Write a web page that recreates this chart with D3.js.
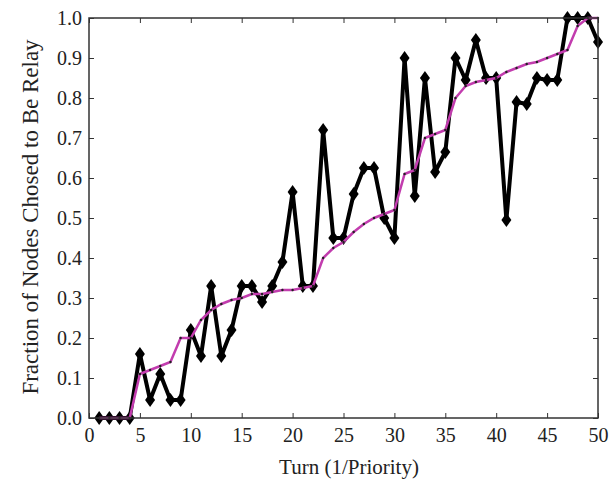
<!DOCTYPE html>
<html><head><meta charset="utf-8">
<script src="https://cdn.jsdelivr.net/npm/d3@7"></script>
<style>body{margin:0;background:#fff}svg{display:block}text{font-family:"Liberation Serif","Times New Roman",serif;fill:#222}</style>
</head><body>
<script>
const turns = d3.range(1, 51);
const fraction = [0,0,0,0,0.16,0.045,0.11,0.045,0.045,0.22,0.155,0.33,0.155,0.22,0.33,0.33,0.29,0.33,0.39,0.565,0.33,0.33,0.72,0.45,0.45,0.56,0.625,0.625,0.50,0.45,0.90,0.555,0.85,0.615,0.665,0.90,0.845,0.945,0.85,0.85,0.495,0.79,0.785,0.85,0.845,0.845,1.0,1.0,1.0,0.94];
const trend = [0,0,0,0,0.11,0.12,0.13,0.14,0.20,0.20,0.245,0.27,0.285,0.295,0.30,0.31,0.31,0.315,0.32,0.32,0.325,0.33,0.40,0.425,0.44,0.465,0.485,0.50,0.51,0.52,0.61,0.62,0.70,0.71,0.72,0.80,0.83,0.84,0.845,0.85,0.865,0.875,0.885,0.89,0.90,0.91,0.92,0.98,1.0,1.0];
const xTicks = d3.range(0, 51, 5);
const yTicks = d3.range(0, 11).map(d => d / 10);
const xTitle = "Turn (1/Priority)";
const yTitle = "Fraction of Nodes Chosed to Be Relay";

const W = 616, H = 482, m = {l: 89, r: 18, t: 18, b: 64};
const svg = d3.select("body").append("svg").attr("width", W).attr("height", H);
const x = d3.scaleLinear().domain([0, 50]).range([m.l, W - m.r]);
const y = d3.scaleLinear().domain([0, 1]).range([H - m.b, m.t]);

const frame = "#333";
const g = svg.append("g");
const tl = 5;
g.append("g").attr("transform", `translate(0,${y(0)})`)
  .call(d3.axisBottom(x).tickValues(xTicks).tickSizeInner(-tl).tickSizeOuter(0).tickPadding(10).tickFormat(d3.format("d")))
  .call(a => { a.select(".domain").remove(); a.selectAll("line").attr("stroke", frame); a.selectAll("text").attr("font-size", 20).style("fill","#222"); });
g.append("g").attr("transform", `translate(0,${y(1)})`)
  .call(d3.axisTop(x).tickValues(xTicks).tickSizeInner(-tl).tickSizeOuter(0).tickFormat(""))
  .call(a => { a.select(".domain").remove(); a.selectAll("line").attr("stroke", frame); });
g.append("g").attr("transform", `translate(${x(0)},0)`)
  .call(d3.axisLeft(y).tickValues(yTicks).tickSizeInner(-tl).tickSizeOuter(0).tickPadding(7).tickFormat(d3.format(".1f")))
  .call(a => { a.select(".domain").remove(); a.selectAll("line").attr("stroke", frame); a.selectAll("text").attr("font-size", 20).style("fill","#222"); });
g.append("g").attr("transform", `translate(${x(50)},0)`)
  .call(d3.axisRight(y).tickValues(yTicks).tickSizeInner(-tl).tickSizeOuter(0).tickFormat(""))
  .call(a => { a.select(".domain").remove(); a.selectAll("line").attr("stroke", frame); });

const data = turns.map((t, i) => ({t, f: fraction[i], m: trend[i]}));

svg.append("path").datum(data)
  .attr("fill", "none").attr("stroke", "#000").attr("stroke-width", 4).attr("stroke-linejoin", "round")
  .attr("d", d3.line().x(d => x(d.t)).y(d => y(d.f)));
svg.append("g").selectAll("path").data(data).join("path")
  .attr("transform", d => `translate(${x(d.t)},${y(d.f)})`)
  .attr("d", "M0,-7L5,0L0,7L-5,0Z").attr("fill", "#000");

svg.append("path").datum(data)
  .attr("fill", "none").attr("stroke", "#c23cae").attr("stroke-width", 2.5)
  .attr("d", d3.line().x(d => x(d.t)).y(d => y(d.m)));
svg.append("g").selectAll("circle").data(data).join("circle")
  .attr("cx", d => x(d.t)).attr("cy", d => y(d.m)).attr("r", 1.2).attr("fill", "#222");

svg.append("rect").attr("x", x(0)).attr("y", y(1)).attr("width", x(50) - x(0)).attr("height", y(0) - y(1))
  .attr("fill", "none").attr("stroke", frame).attr("stroke-width", 1.5);

svg.append("text").attr("x", 349).attr("y", 474).attr("text-anchor", "middle").attr("font-size", 21).text(xTitle);
svg.append("text").attr("transform", `translate(38,217) rotate(-90)`).attr("text-anchor", "middle").attr("font-size", 23).text(yTitle);
</script>
</body></html>
